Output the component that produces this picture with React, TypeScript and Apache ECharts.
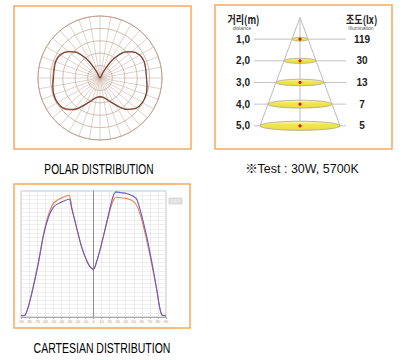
import React, { useEffect, useRef } from "react";
import * as echarts from "echarts";

// ---- Polar distribution (relative intensity, angle from nadir, degrees) ----
const polarAngles = [0, 10, 20, 30, 40, 50, 60, 70, 80, 90, 100, 110, 120, 130, 138, 144, 148, 152, 156, 180, 204, 208, 212, 216, 222, 230, 240, 250, 260, 270, 280, 290, 300, 310, 320, 330, 340, 350, 360];
const polarCurveA = [30, 32, 38, 50, 66, 76, 79, 79, 77, 75, 75, 76, 74, 66, 55, 40, 25, 10, 0, 0, 0, 10, 25, 40, 55, 66, 74, 76, 75, 75, 77, 79, 79, 76, 66, 50, 38, 32, 30];
const polarCurveB = [30, 32, 38, 51, 67, 77, 80, 80, 78, 76, 76, 77, 75, 67, 56, 41, 26, 10, 0, 0, 0, 10, 25, 40, 55, 66, 74, 76, 75, 75, 77, 79, 79, 76, 66, 50, 38, 32, 30];

// ---- Cone illuminance diagram ----
const distances = [1, 2, 3, 4, 5];
const illuminance = [119, 30, 13, 7, 5];

// ---- Cartesian distribution ----
const cartAngles = [-90, -85, -81, -75, -68, -62, -56, -50, -44, -38, -30, -27, -21, -15, -8, -4, 0, 2, 8, 14, 21, 25, 28, 34, 41, 49, 54, 60, 66, 72, 78, 82, 85, 90];
const cartOrange = [3, 4.5, 24, 72, 135, 198, 243, 270, 279, 285, 290, 261, 213, 168, 132, 119, 114, 120, 159, 204, 258, 279, 285, 284, 282, 276, 264, 231, 183, 129, 69, 24, 4.5, 3];
const cartPurple = [3, 4.5, 24, 69, 132, 195, 237, 261, 270, 275, 281, 258, 213, 168, 132, 119, 114, 120, 159, 207, 264, 291, 298, 296, 294, 288, 279, 240, 192, 135, 72, 24, 4.5, 3];

const SPREAD = 0.2; // half-width of the light cone per metre (diagram units)
const CONE_X = 1.15;

export default function App() {
  const ref = useRef<HTMLDivElement>(null);
  useEffect(() => {
    if (!ref.current) return;
    const chart = echarts.init(ref.current, null, { renderer: "svg" });

    const distLabels = distances.map((d) => d.toFixed(1).replace(".", ","));
    const luxLabels = illuminance.map((v) => String(v));
    const maxIdx = distances.length;
    const maxD = distances[distances.length - 1];

    const ellipseFill = new echarts.graphic.LinearGradient(0, 0, 0, 1, [
      { offset: 0, color: "#fbf8cf" },
      { offset: 0.35, color: "#f1e84e" },
      { offset: 1, color: "#e8dc3a" },
    ]);

    const orange = "#f6a95e";
    const titleFont = '15px "Liberation Sans", Arial, sans-serif';

    chart.setOption({
      animation: false,
      backgroundColor: "#ffffff",
      textStyle: { fontFamily: '"Liberation Sans", "Noto Sans CJK KR", sans-serif' },
      polar: { center: [100, 78], radius: 62 },
      angleAxis: {
        type: "value",
        min: 0,
        max: 360,
        interval: 10,
        startAngle: 270,
        clockwise: true,
        axisLine: { lineStyle: { color: "#bd9f92", width: 0.9 } },
        axisTick: { show: false },
        axisLabel: { show: false },
        splitLine: { lineStyle: { color: "#cbb3a8", width: 0.6 } },
      },
      radiusAxis: {
        type: "value",
        min: 0,
        max: 100,
        interval: 20,
        axisLine: { show: false },
        axisTick: { show: false },
        axisLabel: { show: false },
        splitLine: { lineStyle: { color: "#c6aca0", width: 0.8 } },
      },
      grid: [
        { left: 21, top: 191, width: 145, height: 126, show: true, borderColor: "#c4c4c4", borderWidth: 1, backgroundColor: "#ffffff" },
        { left: 254, top: 17.5, width: 92, height: 108.3, show: false },
      ],
      xAxis: [
        {
          gridIndex: 0,
          type: "value",
          min: -90,
          max: 90,
          interval: 10,
          axisLine: { onZero: false, lineStyle: { color: "#aaaaaa" } },
          axisTick: { show: true, length: 2, lineStyle: { color: "#aaaaaa" } },
          axisLabel: { show: true, fontSize: 4, color: "#9a9a9a", margin: 2 },
          splitLine: { lineStyle: { color: "#e2e2e2", width: 0.6 } },
        },
        { gridIndex: 1, type: "value", min: -CONE_X, max: CONE_X, show: false },
      ],
      yAxis: [
        {
          gridIndex: 0,
          type: "value",
          min: 0,
          max: 300,
          interval: 10,
          axisLine: { show: true, onZero: true, lineStyle: { color: "#8f8f8f" } },
          axisTick: { show: false },
          axisLabel: { show: false },
          splitLine: { lineStyle: { color: "#e6e6e6", width: 0.6 } },
        },
        {
          gridIndex: 1,
          type: "category",
          data: ["", ...distLabels],
          inverse: true,
          boundaryGap: false,
          axisLine: { show: false },
          axisTick: { show: false },
          splitLine: { show: false },
          axisLabel: { fontSize: 10, fontWeight: "bold", color: "#222", margin: 4 },
        },
        {
          gridIndex: 1,
          type: "category",
          position: "right",
          data: ["", ...luxLabels],
          inverse: true,
          boundaryGap: false,
          axisLine: { show: false },
          axisTick: { show: false },
          splitLine: { show: false },
          axisLabel: { fontSize: 10, fontWeight: "bold", color: "#222", margin: 16, align: "center" },
        },
      ],
      series: [
        {
          type: "line",
          coordinateSystem: "polar",
          data: polarAngles.map((a, i) => [polarCurveB[i], a]),
          symbol: "none",
          smooth: 0.3,
          lineStyle: { color: "#cf7a66", width: 1.2 },
        },
        {
          type: "line",
          coordinateSystem: "polar",
          data: polarAngles.map((a, i) => [polarCurveA[i], a]),
          symbol: "none",
          smooth: 0.3,
          lineStyle: { color: "#6b4638", width: 1.1 },
        },
        {
          type: "line",
          xAxisIndex: 0,
          yAxisIndex: 0,
          data: cartAngles.map((a, i) => [a, cartOrange[i]]),
          symbol: "none",
          smooth: 0.2,
          lineStyle: { color: "#e8804e", width: 1.1 },
        },
        {
          type: "line",
          xAxisIndex: 0,
          yAxisIndex: 0,
          data: cartAngles.map((a, i) => [a, cartPurple[i]]),
          symbol: "none",
          smooth: 0.2,
          lineStyle: { color: "#6a5ac4", width: 1.1 },
        },
        {
          type: "line",
          xAxisIndex: 1,
          yAxisIndex: 1,
          data: [[-SPREAD * maxD, maxIdx], [0, 0], [SPREAD * maxD, maxIdx]],
          symbol: "none",
          z: 1,
          lineStyle: { color: "#bdbdbd", width: 1 },
        },
        {
          type: "line",
          xAxisIndex: 1,
          yAxisIndex: 1,
          data: [[0, 0], [0, maxIdx]],
          symbol: "none",
          z: 1,
          lineStyle: { color: "#bdbdbd", width: 1 },
        },
        {
          type: "custom",
          xAxisIndex: 1,
          yAxisIndex: 1,
          z: 3,
          data: distances.map((d, i) => [d, i + 1]),
          renderItem: (params: any, api: any) => {
            const d = api.value(0);
            const idx = api.value(1);
            const c = api.coord([0, idx]);
            const l = api.coord([-CONE_X, idx]);
            const r = api.coord([CONE_X, idx]);
            const e = api.coord([SPREAD * d, idx]);
            const rx = e[0] - c[0];
            const ry = 1.2 + rx * 0.085;
            return {
              type: "group",
              children: [
                { type: "line", shape: { x1: l[0], y1: c[1], x2: r[0], y2: c[1] }, style: { stroke: "#c3c3c3", lineWidth: 1 } },
                { type: "ellipse", shape: { cx: c[0], cy: c[1], rx, ry }, style: { fill: ellipseFill, stroke: "#a9a48a", lineWidth: 0.8 } },
                { type: "circle", shape: { cx: c[0], cy: c[1], r: 1.6 }, style: { fill: "#d9121b" } },
              ],
            };
          },
        },
      ],
      graphic: [
        { type: "rect", shape: { x: 14, y: 6, width: 177, height: 143 }, style: { fill: "none", stroke: orange, lineWidth: 1.5 } },
        { type: "rect", shape: { x: 215, y: 5, width: 177, height: 144 }, style: { fill: "none", stroke: orange, lineWidth: 1.5 } },
        { type: "rect", shape: { x: 14, y: 184, width: 176, height: 144 }, style: { fill: "none", stroke: orange, lineWidth: 1.5 } },
        { type: "rect", shape: { x: 169, y: 198, width: 13, height: 6 }, style: { fill: "#e4e4e4", stroke: "#c4c4c4", lineWidth: 0.6 } },
        {
          type: "text", x: 99, y: 169, scaleX: 0.68,
          style: { text: "POLAR DISTRIBUTION", font: titleFont, fill: "#000000", textAlign: "center", textVerticalAlign: "middle" },
        },
        {
          type: "text", x: 102, y: 347.5, scaleX: 0.7,
          style: { text: "CARTESIAN DISTRIBUTION", font: titleFont, fill: "#000000", textAlign: "center", textVerticalAlign: "middle" },
        },
        {
          type: "text", x: 302, y: 168, scaleX: 0.96,
          style: { text: "※Test : 30W, 5700K", font: '13px "Liberation Sans", "Noto Sans CJK KR", sans-serif', fill: "#111111", textAlign: "center", textVerticalAlign: "middle" },
        },
        {
          type: "text", x: 243.5, y: 19, scaleX: 0.82,
          style: { text: "거리(m)", font: 'bold 11px "Noto Sans CJK KR", sans-serif', fill: "#222", textAlign: "center", textVerticalAlign: "middle" },
        },
        {
          type: "text", x: 242, y: 28,
          style: { text: "distance", font: '5px "Liberation Sans", sans-serif', fill: "#555", textAlign: "center", textVerticalAlign: "middle" },
        },
        {
          type: "text", x: 361.7, y: 19, scaleX: 0.82,
          style: { text: "조도(lx)", font: 'bold 11px "Noto Sans CJK KR", sans-serif', fill: "#222", textAlign: "center", textVerticalAlign: "middle" },
        },
        {
          type: "text", x: 361, y: 28,
          style: { text: "Illumination", font: '5px "Liberation Sans", sans-serif', fill: "#555", textAlign: "center", textVerticalAlign: "middle" },
        },
      ],
    });
    return () => chart.dispose();
  }, []);
  return <div ref={ref} style={{ position: "fixed", left: 0, top: 0, width: 408, height: 360 }} />;
}
